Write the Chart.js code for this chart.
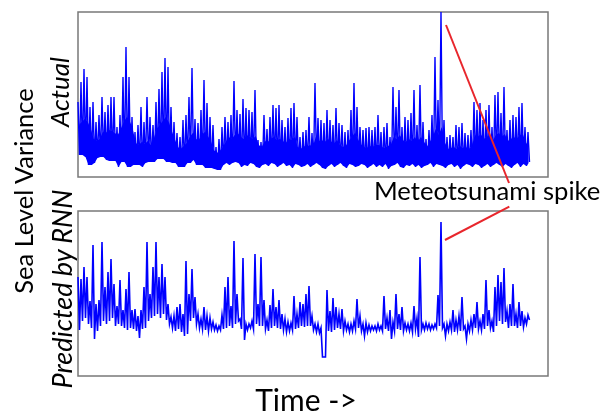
<!DOCTYPE html>
<html><head><meta charset="utf-8">
<script src="https://cdn.jsdelivr.net/npm/chart.js@4.4.0/dist/chart.umd.min.js"></script>
<style>
html,body{margin:0;padding:0;background:#fff;width:604px;height:416px;overflow:hidden;}
#wrap{position:relative;width:604px;height:416px;font-family:Lato,'Open Sans',sans-serif;}
canvas{position:absolute;left:0;}
#c1{top:0;}
#c2{top:200px;}
.lbl{position:absolute;white-space:nowrap;color:#000;line-height:1;}
.ctr{transform:translate(-50%,-50%);}
.rot{transform:translate(-50%,-50%) rotate(-90deg);}
</style></head>
<body><div id="wrap">
<canvas id="c1" width="604" height="200"></canvas>
<canvas id="c2" width="604" height="216"></canvas>
<div class="lbl rot" style="left:24px;top:191px;font-size:25.5px">Sea Level Variance</div>
<div class="lbl rot" style="left:59px;top:92px;font-size:26px;font-style:italic">Actual</div>
<div class="lbl rot" style="left:61px;top:289px;font-size:27px;font-style:italic">Predicted by RNN</div>
<div class="lbl ctr" style="left:306px;top:399px;font-size:30px">Time -&gt;</div>
<div class="lbl" style="left:374px;top:178px;font-size:25.6px">Meteotsunami spike</div>
</div>
<script>
// "Actual" series: per time step, peak value, trough value and top of the dense core
const actualHigh = [75,95,108,100,70,75,55,62,80,65,
 72,80,80,50,62,100,130,100,60,45,
 52,70,55,80,60,52,75,88,105,119,
 110,70,55,44,40,57,62,80,109,58,
 54,67,97,74,60,52,30,38,50,60,
 55,62,96,67,63,78,69,67,65,87,
 37,35,62,48,60,72,69,72,57,50,
 59,69,74,60,40,45,47,60,44,94,
 59,57,54,67,57,52,69,54,52,45,
 47,67,94,70,50,47,49,50,47,50,
 62,45,50,54,40,90,70,87,50,60,
 57,64,87,52,92,55,38,47,62,120,
 77,165,57,40,42,40,52,50,54,44,
 42,47,75,67,74,57,67,72,50,82,
 85,64,90,47,57,62,60,70,74,50,
 45];
const actualLow = [22,22,20,12,12,14,19,20,20,17,
 16,16,16,10,15,15,10,10,12,12,
 12,10,14,15,15,15,18,18,18,15,
 15,14,14,10,10,10,14,14,17,12,
 12,12,9,9,9,8,7,7,12,14,
 12,14,15,14,10,12,11,14,13,10,
 9,12,13,11,14,13,10,12,14,11,
 12,9,13,12,10,11,13,10,12,14,
 12,9,8,11,13,10,12,14,11,9,
 13,12,10,11,13,12,9,11,13,10,
 12,10,13,8,11,12,14,10,9,12,
 11,13,10,12,9,11,12,14,10,13,
 12,11,9,12,13,10,12,8,11,13,
 12,10,13,12,9,11,13,10,12,14,
 12,10,13,11,9,12,14,10,13,11,
 15];
const actualCore = [52,55,58,55,48,38,36,38,45,44,
 47,46,44,42,48,55,60,56,48,34,
 32,35,33,36,32,38,48,52,56,60,
 55,46,38,30,28,31,34,40,44,38,
 37,42,45,41,36,27,24,26,30,35,
 40,38,42,44,40,38,42,40,38,41,
 32,30,36,35,38,40,37,38,36,34,
 38,37,40,30,28,31,30,32,30,40,
 36,37,35,38,36,33,37,32,30,31,
 36,40,44,38,33,30,29,31,30,32,
 32,30,29,31,32,40,38,42,37,35,
 38,36,40,35,40,36,30,35,40,48,
 42,50,35,28,29,30,28,31,29,30,
 28,30,42,40,43,38,40,42,36,42,
 44,40,43,36,38,40,38,42,43,35,
 30];
// "Predicted by RNN" series: per time step, peak and trough value
const predHigh = [99,97,109,99,75,131,72,76,134,89,
 104,117,92,70,96,66,87,104,66,67,
 60,66,89,134,82,109,134,99,112,99,
 72,59,60,69,72,62,115,82,107,79,
 62,57,69,60,58,54,51,50,61,89,
 99,70,135,82,57,118,52,52,55,122,
 72,119,76,56,71,87,69,76,62,57,
 54,53,80,62,74,72,82,90,60,52,
 52,48,19,86,65,78,69,62,67,55,
 52,52,55,77,60,52,53,51,50,50,
 52,50,80,58,66,54,82,62,69,53,
 52,53,70,58,119,52,53,52,51,52,
 81,154,52,52,54,66,56,60,79,50,
 52,56,62,74,55,62,96,66,55,89,
 101,94,108,65,72,92,62,74,65,58,
 61];
const predLow = [46,55,58,52,48,37,45,50,55,52,
 55,58,50,52,50,48,46,48,47,45,
 38,47,48,55,58,60,62,58,62,56,
 52,48,45,47,44,40,42,55,58,52,
 48,47,46,45,47,46,45,46,47,48,
 50,48,52,55,47,36,46,48,47,52,
 50,50,47,45,48,50,48,47,46,44,
 45,46,47,48,50,49,50,50,46,44,
 43,19,19,45,44,46,48,47,45,46,
 44,45,47,48,45,40,44,45,46,45,
 46,45,47,45,37,45,47,46,45,46,
 45,44,47,39,46,46,47,46,47,48,
 50,48,40,45,46,44,46,45,47,37,
 45,46,48,47,46,47,50,48,44,50,
 55,52,54,48,50,50,48,50,49,52,
 56];
// Value-axis range (arbitrary variance units) and time-axis range (steps)
const yRange = [0, 165];
const timeRange = [0, 156.67];
// Annotation "Meteotsunami spike": pointer lines in data units [time, value]
const pointerTop = [[122.67, 152], [143.67, -6]];
const pointerBottom = [[122.33, 136], [143.77, 169.3]];

function envelope(high, low) {
  const pts = [];
  for (let i = 0; i < high.length; i++) {
    pts.push({x: i, y: high[i]});
    pts.push({x: i + 0.5, y: low[i]});
  }
  return pts;
}
function series(vals, shift) {
  return vals.map((v, i) => ({x: i + shift, y: v}));
}

const boxPlugin = {
  id: 'box',
  beforeDatasetsDraw(chart) {
    const {ctx, chartArea: a} = chart;
    ctx.save();
    ctx.strokeStyle = '#787878';
    ctx.lineWidth = 1.5;
    ctx.strokeRect(a.left, a.top, a.right - a.left, a.bottom - a.top);
    ctx.restore();
  }
};
function pointerPlugin(seg) {
  return {
    id: 'pointer',
    afterDraw(chart) {
      const {ctx, scales: {x, y}} = chart;
      ctx.save();
      ctx.strokeStyle = '#e8262c';
      ctx.lineWidth = 2;
      ctx.beginPath();
      ctx.moveTo(x.getPixelForValue(seg[0][0]), y.getPixelForValue(seg[0][1]));
      ctx.lineTo(x.getPixelForValue(seg[1][0]), y.getPixelForValue(seg[1][1]));
      ctx.stroke();
      ctx.restore();
    }
  };
}

function makeChart(id, datasets, padding, seg) {
  return new Chart(document.getElementById(id), {
    type: 'line',
    data: { datasets: datasets },
    options: {
      responsive: false, animation: false, devicePixelRatio: 1, events: [],
      layout: { padding: padding },
      elements: { point: { radius: 0 }, line: { tension: 0 } },
      plugins: { legend: { display: false }, tooltip: { enabled: false } },
      scales: {
        x: { type: 'linear', min: timeRange[0], max: timeRange[1], display: false },
        y: { min: yRange[0], max: yRange[1], display: false }
      }
    },
    plugins: [boxPlugin, pointerPlugin(seg)]
  });
}

makeChart('c1', [
  { data: envelope(actualHigh, actualLow), borderColor: '#0000ff', borderWidth: 1.4, fill: false, clip: 2 },
  { data: series(actualCore, 0.25), borderColor: '#0000ff', borderWidth: 0, backgroundColor: '#0000ff', fill: '+1' },
  { data: series(actualLow, 0.5), borderColor: 'rgba(0,0,0,0)', borderWidth: 0, fill: false }
], {left: 78, right: 56, top: 12, bottom: 23}, pointerTop);

makeChart('c2', [
  { data: envelope(predHigh, predLow), borderColor: '#0000ff', borderWidth: 1.6, fill: false, clip: 2 }
], {left: 78, right: 56, top: 11, bottom: 40}, pointerBottom);
</script>
</body></html>
